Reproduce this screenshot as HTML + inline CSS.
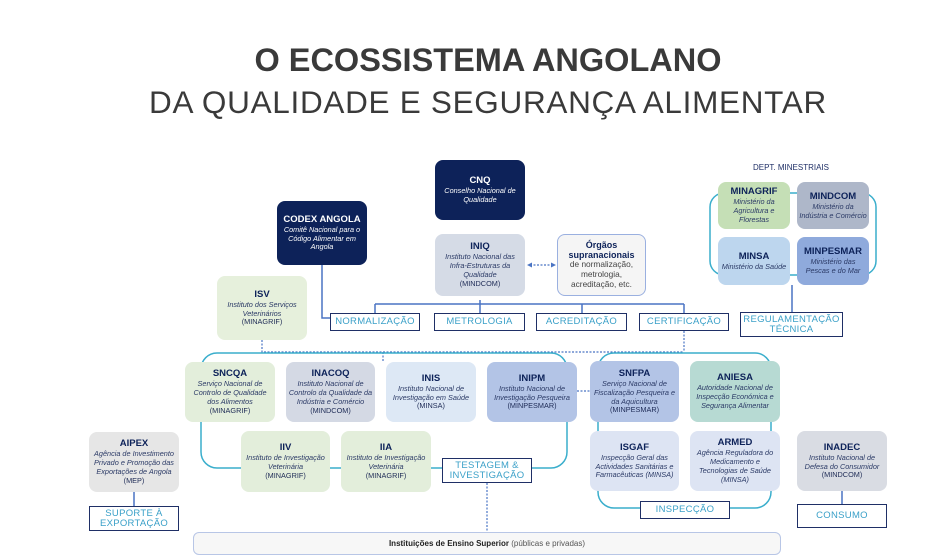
<!DOCTYPE html>
<html><head><meta charset="utf-8"><style>
body{margin:0;width:952px;height:559px;background:#fff;position:relative;overflow:hidden;font-family:"Liberation Sans",sans-serif}
.a{position:absolute;box-sizing:border-box}
.n{position:absolute;box-sizing:border-box;border-radius:8px;text-align:center;display:flex;flex-direction:column;justify-content:center;align-items:center;font-size:7.3px;line-height:8.8px;color:#1d2a55;padding:2px}
.n b{font-size:9.5px;line-height:12px;color:#0d2259}
.n i{color:#2b3a66}
.dk{background:#0d2259;color:#fff}.dk b,.dk i{color:#fff}
.l{position:absolute;box-sizing:border-box;border:1.5px solid #1f2f66;background:#fff;color:#3aa0c8;font-size:9.5px;text-align:center;display:flex;align-items:center;justify-content:center;line-height:10px;letter-spacing:.3px}
</style></head><body>
<div class="a" style="left:0;top:42px;width:976px;text-align:center;font-size:32.5px;font-weight:bold;color:#3a3a3a">O ECOSSISTEMA ANGOLANO</div>
<div class="a" style="left:0;top:84px;width:976px;text-align:center;font-size:31.5px;color:#3a3a3a;letter-spacing:.7px">DA QUALIDADE E SEGURANÇA ALIMENTAR</div>

<svg class="a" style="left:0;top:0" width="952" height="559">
<g fill="none" stroke="#4a74c4" stroke-width="1.5">
<path d="M322 265V318H330"/><path d="M480 300V304M375 304H684M375 304V313M480 304V313M582 304V313M684 304V313"/>
</g>
<g fill="none" stroke="#4a74c4" stroke-width="1.2" stroke-dasharray="2,1.5">
<path d="M262 340V352H684M684 331V352M383 352V362M487 483V532M577 391H590M530 265H553"/>
</g>
<path d="M527 265l5-2.5v5z M556 265l-5-2.5v5z" fill="#4a74c4"/>
<g fill="none" stroke="#3aaecc" stroke-width="1.5">
<rect x="201" y="353" width="366" height="115" rx="16"/>
<rect x="598" y="353" width="173" height="155" rx="16"/>
<rect x="710" y="193" width="166" height="82" rx="14"/>
</g>
<g stroke="#4a74c4" stroke-width="1.5"><path d="M792 285V312M134 492V506M842 491V504"/></g>
</svg>

<div class="n dk" style="left:435px;top:160px;width:90px;height:60px"><b>CNQ</b><i>Conselho Nacional de Qualidade</i></div>
<div class="n dk" style="left:277px;top:201px;width:90px;height:64px"><b>CODEX ANGOLA</b><i>Comitê Nacional para o Código Alimentar em Angola</i></div>
<div class="n" style="left:217px;top:276px;width:90px;height:64px;background:#e6f0dc"><b>ISV</b><i>Instituto dos Serviços Veterinários</i>(MINAGRIF)</div>
<div class="n" style="left:435px;top:234px;width:90px;height:62px;background:#d5dbe6"><b>INIQ</b><i>Instituto Nacional das Infra-Estruturas da Qualidade</i>(MINDCOM)</div>
<div class="n" style="left:557px;top:234px;width:89px;height:62px;background:#f5f5f5;border:1px solid #9ab0e0;font-size:8.3px;line-height:9.8px;color:#444"><b style="font-size:9px;line-height:10px">Órgãos supranacionais</b>de normalização, metrologia, acreditação, etc.</div>

<div class="l" style="left:330px;top:313px;width:90px;height:18px">NORMALIZAÇÃO</div>
<div class="l" style="left:434px;top:313px;width:91px;height:18px">METROLOGIA</div>
<div class="l" style="left:536px;top:313px;width:91px;height:18px">ACREDITAÇÃO</div>
<div class="l" style="left:639px;top:313px;width:90px;height:18px">CERTIFICAÇÃO</div>

<div class="a" style="left:710px;top:163px;width:162px;text-align:center;font-size:8px;color:#1f2f66">DEPT. MINESTRIAIS</div>
<div class="n" style="left:718px;top:182px;width:72px;height:47px;background:#c5dfb6"><b>MINAGRIF</b><i>Ministério da Agricultura e Florestas</i></div>
<div class="n" style="left:797px;top:182px;width:72px;height:47px;background:#aeb7c9"><b>MINDCOM</b><i>Ministério da Indústria e Comércio</i></div>
<div class="n" style="left:718px;top:237px;width:72px;height:48px;background:#bdd6ee"><b>MINSA</b><i>Ministério da Saúde</i></div>
<div class="n" style="left:797px;top:237px;width:72px;height:48px;background:#8faadc"><b>MINPESMAR</b><i>Ministério das Pescas e do Mar</i></div>
<div class="l" style="left:740px;top:312px;width:103px;height:25px">REGULAMENTAÇÃO<br>TÉCNICA</div>

<div class="n" style="left:185px;top:362px;width:90px;height:60px;background:#e3eedb"><b>SNCQA</b><i>Serviço Nacional de Controlo de Qualidade dos Alimentos</i>(MINAGRIF)</div>
<div class="n" style="left:286px;top:362px;width:89px;height:60px;background:#d4d9e4"><b>INACOQ</b><i>Instituto Nacional de Controlo da Qualidade da Indústria e Comércio</i>(MINDCOM)</div>
<div class="n" style="left:386px;top:362px;width:90px;height:60px;background:#dde8f5"><b>INIS</b><i>Instituto Nacional de Investigação em Saúde</i>(MINSA)</div>
<div class="n" style="left:487px;top:362px;width:90px;height:60px;background:#b3c4e6"><b>INIPM</b><i>Instituto Nacional de Investigação Pesqueira</i>(MINPESMAR)</div>
<div class="n" style="left:241px;top:431px;width:89px;height:61px;background:#e3eedb"><b>IIV</b><i>Instituto de Investigação Veterinária</i>(MINAGRIF)</div>
<div class="n" style="left:341px;top:431px;width:90px;height:61px;background:#e3eedb"><b>IIA</b><i>Instituto de Investigação Veterinária</i>(MINAGRIF)</div>
<div class="l" style="left:442px;top:458px;width:90px;height:25px">TESTAGEM &amp;<br>INVESTIGAÇÃO</div>

<div class="n" style="left:89px;top:432px;width:90px;height:60px;background:#e6e6e6"><b>AIPEX</b><i>Agência de Investimento Privado e Promoção das Exportações de Angola</i>(MEP)</div>
<div class="l" style="left:89px;top:506px;width:90px;height:25px">SUPORTE À<br>EXPORTAÇÃO</div>

<div class="n" style="left:590px;top:361px;width:89px;height:61px;background:#b3c4e6"><b>SNFPA</b><i>Serviço Nacional de Fiscalização Pesqueira e da Aquicultura</i>(MINPESMAR)</div>
<div class="n" style="left:690px;top:361px;width:90px;height:61px;background:#b7dad3"><b>ANIESA</b><i>Autoridade Nacional de Inspecção Económica e Segurança Alimentar</i></div>
<div class="n" style="left:590px;top:431px;width:89px;height:60px;background:#dde4f3"><b>ISGAF</b><i>Inspecção Geral das Actividades Sanitárias e Farmacêuticas (MINSA)</i></div>
<div class="n" style="left:690px;top:431px;width:90px;height:60px;background:#dde4f3"><b>ARMED</b><i>Agência Reguladora do Medicamento e Tecnologias de Saúde (MINSA)</i></div>
<div class="l" style="left:640px;top:501px;width:90px;height:18px">INSPECÇÃO</div>
<div class="n" style="left:797px;top:431px;width:90px;height:60px;background:#d9dce3"><b>INADEC</b><i>Instituto Nacional de Defesa do Consumidor</i>(MINDCOM)</div>
<div class="l" style="left:797px;top:504px;width:90px;height:24px">CONSUMO</div>

<div class="a" style="left:193px;top:532px;width:588px;height:23px;border:1px solid #b8c6e6;border-radius:6px;background:#f7f7f7;font-size:8px;color:#555;text-align:center;line-height:22px"><b style="color:#222">Instituições de Ensino Superior</b> (públicas e privadas)</div>
</body></html>
